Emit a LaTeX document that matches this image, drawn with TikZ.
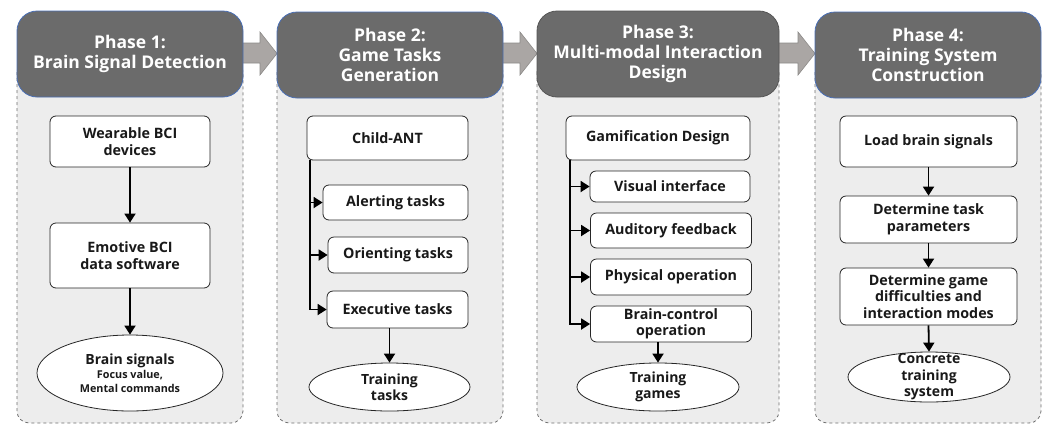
\documentclass[tikz,border=0pt]{standalone}
\usepackage{fontspec}
\setmainfont{Open Sans}
\usetikzlibrary{shapes.geometric,arrows.meta}
\definecolor{hdr}{HTML}{6B6B6B}
\definecolor{hdrline}{HTML}{4A6FB5}
\definecolor{panel}{HTML}{EDEDED}
\definecolor{panelline}{HTML}{6E6E6E}
\definecolor{blk}{HTML}{AAA6A4}
\definecolor{blkline}{HTML}{8C8A88}
\tikzset{
  header/.style={draw=hdrline, line width=0.8pt, fill=hdr, rounded corners=20pt, text=white,
    font=\fontsize{17.5}{20}\selectfont\bfseries, align=center, inner sep=0pt},
  panelbox/.style={draw=panelline, fill=panel, dashed, line width=0.8pt, rounded corners=12pt},
  stepbox/.style={draw=black!85, fill=white, rounded corners=6pt, line width=0.8pt, text=black!90,
    font=\fontsize{14.3}{16.8}\selectfont\bfseries, align=center, inner sep=1pt},
  ellip/.style={draw=black!85, fill=white, ellipse, line width=0.8pt, inner sep=0pt},
  etext/.style={font=\fontsize{14}{16.5}\selectfont\bfseries, align=center, inner sep=0pt, text=black!90},
  flow/.style={line width=1.8pt, -{Triangle[length=9pt,width=11pt]}},
  trunk/.style={line width=1.8pt},
  blockarrow/.style={draw=blkline, fill=blk, line width=0.6pt}
}
\begin{document}
\begin{tikzpicture}[x=1pt,y=-1pt]
\useasboundingbox (0,0) rectangle (1048,426);
% panels
\draw[panelbox] (17,60) rectangle (243,423);
\draw[panelbox] (277,60) rectangle (503,423);
\draw[panelbox] (537,60) rectangle (779,423);
\draw[panelbox] (815,60) rectangle (1041,423);
% block arrows
\foreach \a/\b in {243/277, 503/537, 779/815}{
  \draw[blockarrow] (\a-1,43) -- (\b-17,43) -- (\b-17,32) -- (\b,53.5) -- (\b-17,75) -- (\b-17,63) -- (\a-1,63) -- cycle;
}
% headers
\node[header, minimum width=226pt, minimum height=86pt] (h1) at (130,54) {Phase 1:\\Brain Signal Detection};
\node[header, minimum width=226pt, minimum height=86pt] (h2) at (390,55) {Phase 2:\\Game Tasks\\Generation};
\node[header, draw=hdr!80!black, minimum width=242pt, minimum height=86pt] (h3) at (658,54) {Phase 3:\\Multi-modal Interaction\\Design};
\node[header, minimum width=226pt, minimum height=86pt] (h4) at (928,55) {Phase 4:\\Training System\\Construction};

% Panel 1
\node[stepbox, minimum width=160pt, minimum height=51pt] (w1) at (130,141.5) {Wearable BCI\\devices};
\node[stepbox, minimum width=160pt, minimum height=65pt] (e1) at (130,255.5) {Emotive BCI\\data software};
\node[ellip, minimum width=186pt, minimum height=76pt] (b1) at (130,373) {};
\node[etext] (b1t) at (b1) {Brain signals\\[-2pt]{\fontsize{10.8}{13}\selectfont Focus value,}\\[-3pt]{\fontsize{10.8}{13}\selectfont Mental commands}};
\draw[flow] (w1.south) -- (e1.north);
\draw[flow] (e1.south) -- (b1.north);

% Panel 2
\node[stepbox, minimum width=161pt, minimum height=44pt] (c2) at (387.5,138) {Child-ANT};
\node[stepbox, minimum width=145pt, minimum height=35pt] (a2) at (395.5,202.5) {Alerting tasks};
\node[stepbox, minimum width=140pt, minimum height=36pt] (o2) at (398,255) {Orienting tasks};
\node[stepbox, minimum width=141pt, minimum height=37pt] (x2) at (397.5,309.5) {Executive tasks};
\node[ellip, minimum width=161pt, minimum height=48pt] (t2) at (389.5,387) {};
\node[etext] at (t2) {Training\\tasks};
\coordinate (s2) at (310,160);
\coordinate (e2) at (310,310);
\draw[trunk] (s2) -- (e2);
\draw[flow] (a2.west -| s2) -- (a2.west);
\draw[flow] (o2.west -| s2) -- (o2.west);
\draw[flow] (x2.west -| s2) -- (x2.west);
\draw[flow] (x2.south -| t2.north) -- (t2.north);

% Panel 3
\node[stepbox, minimum width=184pt, minimum height=44pt] (g3) at (658,138) {Gamification Design};
\node[stepbox, minimum width=160pt, minimum height=31pt] (v3) at (670,186.5) {Visual interface};
\node[stepbox, minimum width=161pt, minimum height=35pt] (a3) at (671,230.5) {Auditory feedback};
\node[stepbox, minimum width=161pt, minimum height=36pt] (p3) at (671,277) {Physical operation};
\node[stepbox, minimum width=161pt, minimum height=36pt, inner sep=0pt] (bc3) at (671,324) {Brain-control\\[-1pt]operation};
\node[ellip, minimum width=162pt, minimum height=48pt] (tg3) at (658,387) {};
\node[etext] at (tg3) {Training\\games};
\coordinate (s3) at (570,160);
\coordinate (e3) at (570,325);
\draw[trunk] (s3) -- (e3);
\draw[flow] (v3.west -| s3) -- (v3.west);
\draw[flow] (a3.west -| s3) -- (a3.west);
\draw[flow] (p3.west -| s3) -- (p3.west);
\draw[flow] (bc3.west -| s3) -- (bc3.west);
\draw[flow] (bc3.south -| tg3.north) -- (tg3.north);

% Panel 4
\node[stepbox, minimum width=177pt, minimum height=51pt] (l4) at (928.5,141.5) {Load brain signals};
\node[stepbox, minimum width=177pt, minimum height=47pt] (d4) at (928.5,219.5) {Determine task\\parameters};
\node[stepbox, minimum width=177pt, minimum height=57pt] (dg4) at (928.5,296.5) {Determine game\\difficulties and\\interaction modes};
\node[ellip, minimum width=162pt, minimum height=50pt] (c4) at (929,377) {};
\node[etext] at (c4) {Concrete\\training\\system};
\draw[flow] (l4.south) -- (d4.north);
\draw[flow] (d4.south) -- (dg4.north);
\draw[flow] (dg4.south) -- (c4.north);
\end{tikzpicture}
\end{document}
